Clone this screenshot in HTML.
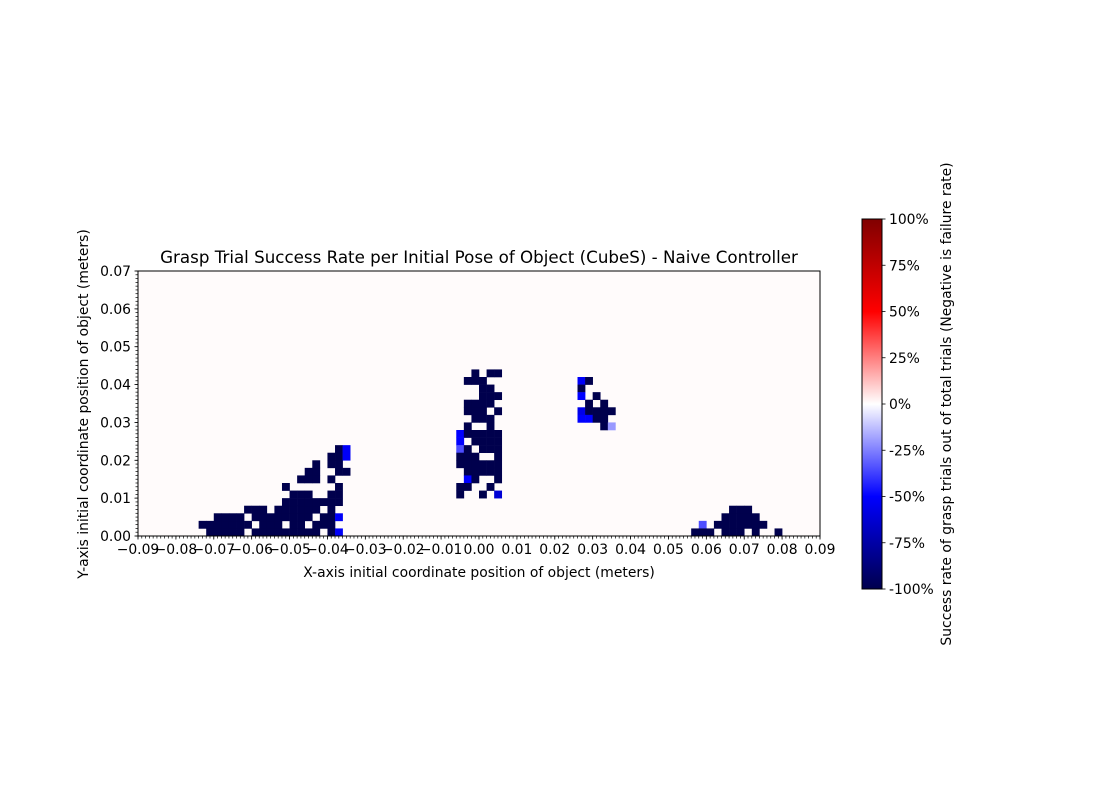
<!DOCTYPE html>
<html><head><meta charset="utf-8"><style>
body{margin:0;background:#fff;}
svg{display:block;font-family:"DejaVu Sans","Liberation Sans",sans-serif;}
</style></head><body>
<svg id="chart" width="1100" height="800">
<defs><linearGradient id="cg" x1="0" y1="0" x2="0" y2="1">
<stop offset="0" stop-color="#800000"/><stop offset="0.25" stop-color="#ff0000"/><stop offset="0.5" stop-color="#ffffff"/><stop offset="0.75" stop-color="#0000ff"/><stop offset="1" stop-color="#00004d"/></linearGradient></defs>
<rect x="138" y="271" width="682" height="265" fill="#fffbfb"/>
<g id="cells"></g>
<rect x="138" y="271" width="682" height="265" fill="none" stroke="#000" stroke-width="1"/>
<g id="axes"></g>
<text x="479" y="263" text-anchor="middle" font-size="16.7">Grasp Trial Success Rate per Initial Pose of Object (CubeS) - Naive Controller</text>
<text x="479" y="577" text-anchor="middle" font-size="13.9">X-axis initial coordinate position of object (meters)</text>
<text transform="translate(88,404) rotate(-90)" text-anchor="middle" font-size="13.9">Y-axis initial coordinate position of object (meters)</text>
<rect x="862" y="219" width="20" height="370" fill="url(#cg)" stroke="#000" stroke-width="1"/>
<g id="cbar"></g>
<text transform="translate(951,404) rotate(-90)" text-anchor="middle" font-size="13.9">Success rate of grasp trials out of total trials (Negative is failure rate)</text>
</svg>
<script>
const xTicks=[-0.09,-0.08,-0.07,-0.06,-0.05,-0.04,-0.03,-0.02,-0.01,0.00,0.01,0.02,0.03,0.04,0.05,0.06,0.07,0.08,0.09];
const xTickLabels=["\u22120.09","\u22120.08","\u22120.07","\u22120.06","\u22120.05","\u22120.04","\u22120.03","\u22120.02","\u22120.01","0.00","0.01","0.02","0.03","0.04","0.05","0.06","0.07","0.08","0.09"];
const yTicks=[0,0.01,0.02,0.03,0.04,0.05,0.06,0.07];
const yTickLabels=["0.00","0.01","0.02","0.03","0.04","0.05","0.06","0.07"];
const cbTicks=[100,75,50,25,0,-25,-50,-75,-100];
const cellSize=0.002;
// runs: x start (m), x end (m), y (m), value (%)
const runXStart=[-0.072,-0.060,-0.040,-0.038, -0.074,-0.058,-0.050,-0.044, -0.070,-0.060,-0.042,-0.038, -0.062,-0.054,-0.040, -0.052, -0.050,-0.040, -0.052,-0.038, -0.048,-0.040, -0.046,-0.038, -0.044,-0.040, -0.040,-0.036, -0.038,-0.036,
 -0.002,0.002, -0.004, 0.000, 0.000, -0.004, -0.004,0.004, -0.002, -0.004,0.002, -0.006,-0.004, -0.006,-0.002, -0.006,-0.004,0.000, -0.006,0.004, -0.006, -0.004, -0.004,-0.002,0.004, -0.006,0.002, -0.006,0.000,0.004,
 0.026,0.028, 0.026, 0.026,0.030, 0.028,0.032, 0.026,0.028, 0.026,0.030, 0.032,0.034,
 0.066, 0.064, 0.058,0.062, 0.056,0.064,0.072,0.078];
const runXEnd=[-0.064,-0.044,-0.040,-0.038, -0.062,-0.054,-0.048,-0.040, -0.064,-0.046,-0.040,-0.038, -0.058,-0.044,-0.040, -0.038, -0.046,-0.038, -0.052,-0.038, -0.044,-0.040, -0.044,-0.036, -0.044,-0.038, -0.038,-0.036, -0.038,-0.036,
 -0.002,0.004, 0.000, 0.002, 0.004, 0.002, 0.000,0.004, 0.002, -0.004,0.002, -0.006,0.004, -0.006,0.004, -0.006,-0.004,0.004, -0.002,0.004, 0.004, 0.004, -0.004,-0.002,0.004, -0.004,0.002, -0.006,0.000,0.004,
 0.026,0.028, 0.026, 0.026,0.030, 0.028,0.032, 0.026,0.034, 0.028,0.032, 0.032,0.034,
 0.070, 0.072, 0.058,0.074, 0.060,0.068,0.072,0.078];
const runY=[0.000,0.000,0.000,0.000, 0.002,0.002,0.002,0.002, 0.004,0.004,0.004,0.004, 0.006,0.006,0.006, 0.008, 0.010,0.010, 0.012,0.012, 0.014,0.014, 0.016,0.016, 0.018,0.018, 0.020,0.020, 0.022,0.022,
 0.042,0.042, 0.040, 0.038, 0.036, 0.034, 0.032,0.032, 0.030, 0.028,0.028, 0.026,0.026, 0.024,0.024, 0.022,0.022,0.022, 0.020,0.020, 0.018, 0.016, 0.014,0.014,0.014, 0.012,0.012, 0.010,0.010,0.010,
 0.040,0.040, 0.038, 0.036,0.036, 0.034,0.034, 0.032,0.032, 0.030,0.030, 0.028,0.028,
 0.006, 0.004, 0.002,0.002, 0.000,0.000,0.000,0.000];
const runVal=[-100,-100,-100,-52, -100,-100,-100,-100, -100,-100,-100,-52, -100,-100,-100, -100, -100,-100, -100,-100, -100,-100, -100,-100, -100,-100, -100,-52, -100,-52,
 -100,-100, -100, -100, -100, -100, -100,-100, -100, -100,-100, -50,-100, -50,-100, -35,-100,-100, -100,-100, -100, -100, -50,-100,-100, -100,-100, -100,-100,-62,
 -52,-100, -100, -50,-100, -100,-100, -56,-100, -50,-100, -100,-20,
 -100, -100, -35,-100, -100,-100,-100,-100];

const NS="http://www.w3.org/2000/svg";
const X0=138,X1=820,Y0=536,Y1=271;
const sx=v=>X0+(v+0.09)/0.18*(X1-X0);
const sy=v=>Y0-(v/0.07)*(Y0-Y1);
function color(v){
  let t=(v+100)/200;let r,g,b;
  const st=[[0,0,0,0.302],[0.25,0,0,1],[0.5,1,1,1],[0.75,1,0,0],[1,0.5,0,0]];
  for(let i=0;i<4;i++){if(t<=st[i+1][0]){const f=(t-st[i][0])/(st[i+1][0]-st[i][0]);r=st[i][1]+f*(st[i+1][1]-st[i][1]);g=st[i][2]+f*(st[i+1][2]-st[i][2]);b=st[i][3]+f*(st[i+1][3]-st[i][3]);break;}}
  return `rgb(${Math.round(r*255)},${Math.round(g*255)},${Math.round(b*255)})`;
}
function mk(tag,attrs,parent){const e=document.createElementNS(NS,tag);for(const k in attrs)e.setAttribute(k,attrs[k]);parent.appendChild(e);return e;}
const cells=document.getElementById('cells');
for(let i=0;i<runXStart.length;i++){
  const n=Math.round((runXEnd[i]-runXStart[i])/cellSize);
  for(let j=0;j<=n;j++){
    const x=runXStart[i]+j*cellSize;
    const px=sx(x),px2=sx(x+cellSize),py=sy(runY[i]+cellSize),py2=sy(runY[i]);
    const r=mk('rect',{x:px,y:py,width:px2-px+0.3,height:py2-py+0.3,fill:color(runVal[i])},cells);
    
    
  }
}
const ax=document.getElementById('axes');
for(let k=0;k<=180;k++){const x=sx(-0.09+k*0.001);mk('line',{x1:x,x2:x,y1:536,y2:538.5,stroke:'#000','stroke-width':0.7},ax);}
for(let k=0;k<=70;k++){const y=sy(k*0.001);mk('line',{x1:135.5,x2:138,y1:y,y2:y,stroke:'#000','stroke-width':0.7},ax);}
xTicks.forEach((v,i)=>{const x=sx(v);mk('line',{x1:x,x2:x,y1:536,y2:539.5,stroke:'#000','stroke-width':0.8},ax);
  const t=mk('text',{x:x,y:554,'text-anchor':'middle','font-size':13.9},ax);t.textContent=xTickLabels[i];
  
  });
yTicks.forEach((v,i)=>{const y=sy(v);mk('line',{x1:134.5,x2:138,y1:y,y2:y,stroke:'#000','stroke-width':0.8},ax);
  const t=mk('text',{x:131,y:y+5,'text-anchor':'end','font-size':13.9},ax);t.textContent=yTickLabels[i];
  
  });
const cb=document.getElementById('cbar');
cbTicks.forEach(v=>{const y=589-(v+100)/200*370;mk('line',{x1:882,x2:885.5,y1:y,y2:y,stroke:'#000','stroke-width':0.8},cb);
  const t=mk('text',{x:889,y:y+5,'font-size':13.9},cb);t.textContent=v+'%';
  
  });
</script>
</body></html>
